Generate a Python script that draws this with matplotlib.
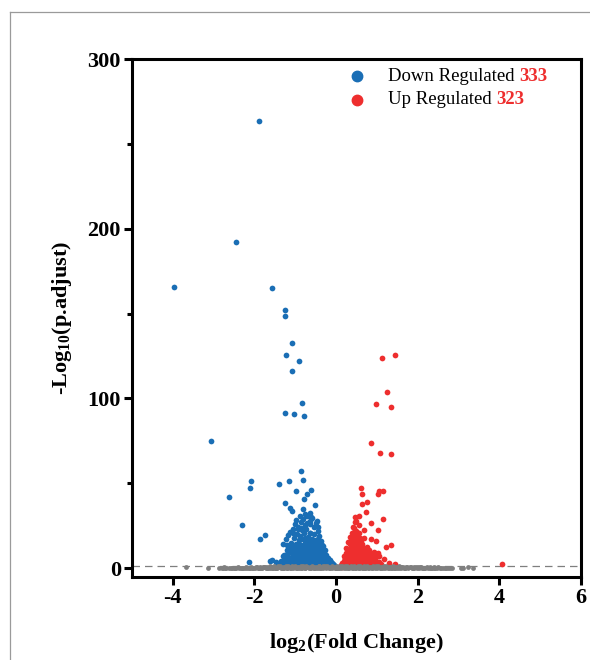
import matplotlib.pyplot as plt
from matplotlib.lines import Line2D
import numpy as np

# significant down-regulated genes (log2FC, -log10 p.adjust)
down_pts = [
    (-1.90, 263.4), (-2.44, 192.0), (-3.97, 165.7), (-1.56, 165.0), (-1.26, 152.3),
    (-1.26, 148.8), (-1.09, 132.8), (-1.23, 125.7), (-0.90, 122.0), (-1.09, 115.9),
    (-0.83, 97.6), (-1.02, 91.0), (-0.78, 89.6), (-1.26, 91.2), (-3.07, 74.7),
    (-2.63, 42.0), (-2.08, 51.2), (-2.10, 47.5), (-2.31, 25.7), (-1.86, 17.1),
    (-1.74, 19.4), (-2.14, 3.5), (-1.40, 49.6), (-1.16, 51.6), (-0.87, 57.5),
    (-0.80, 51.8), (-0.99, 45.3), (-0.78, 41.0), (-0.71, 43.5), (-0.61, 45.9),
    (-1.26, 38.5), (-1.12, 35.3), (-1.08, 33.9), (-0.81, 34.9), (-0.52, 37.3),
    (-0.63, 32.6), (-0.61, 30.0), (-0.65, 28.0), (-0.47, 27.6), (-0.45, 24.1),
    (-0.94, 23.2), (-1.12, 21.2), (-1.63, 4.5), (-1.56, 5.1), (-1.47, 3.5),
    (-1.40, 2.5), (-1.35, 4.5), (-1.45, 2.0), (-1.31, 7.0),
    (-1.28, 2.5), (-1.27, 8.0), (-1.29, 14.0), (-1.22, 4.0), (-1.21, 10.5),
    (-1.23, 17.5), (-1.16, 3.0), (-1.17, 6.5), (-1.15, 12.0), (-1.18, 19.5),
    (-1.10, 2.0), (-1.11, 5.5), (-1.09, 9.0), (-1.10, 15.0), (-1.06, 23.0),
    (-1.04, 3.5), (-1.05, 7.5), (-1.03, 11.5), (-1.04, 18.0), (-1.01, 26.0),
    (-0.98, 2.5), (-0.99, 5.0), (-0.97, 9.5), (-0.98, 14.0), (-0.96, 20.0),
    (-0.97, 28.5), (-0.93, 4.0), (-0.92, 7.0), (-0.94, 12.0), (-0.91, 16.5),
    (-0.93, 24.5), (-0.88, 2.0), (-0.87, 6.0), (-0.89, 10.0), (-0.86, 13.5),
    (-0.88, 19.0), (-0.85, 27.0), (-0.89, 31.0), (-0.83, 3.5), (-0.82, 8.0),
    (-0.84, 12.5), (-0.81, 17.0), (-0.83, 22.5), (-0.80, 29.0), (-0.78, 2.5),
    (-0.77, 5.5), (-0.79, 9.5), (-0.76, 15.0), (-0.78, 20.5), (-0.75, 25.5),
    (-0.77, 32.0), (-0.73, 4.0), (-0.72, 7.5), (-0.74, 11.5), (-0.71, 16.0),
    (-0.73, 23.0), (-0.70, 30.5), (-0.68, 2.0), (-0.67, 6.0), (-0.69, 9.0),
    (-0.66, 13.5), (-0.68, 18.5), (-0.65, 26.0), (-0.63, 3.0), (-0.62, 7.0),
    (-0.64, 11.0), (-0.61, 15.5), (-0.63, 21.0), (-0.60, 29.5), (-0.58, 2.0),
    (-0.57, 5.0), (-0.59, 8.5), (-0.56, 12.5), (-0.58, 17.5), (-0.55, 24.0),
    (-0.53, 3.5), (-0.52, 6.5), (-0.54, 10.5), (-0.51, 14.5), (-0.53, 20.0),
    (-0.50, 26.5), (-0.48, 2.0), (-0.47, 5.0), (-0.49, 8.0), (-0.46, 12.0),
    (-0.48, 16.5), (-0.45, 22.0), (-0.43, 3.0), (-0.42, 6.5), (-0.44, 10.0),
    (-0.41, 14.0), (-0.43, 19.0), (-0.38, 2.0), (-0.37, 5.0), (-0.39, 8.0),
    (-0.36, 11.5), (-0.38, 16.0), (-0.33, 2.5), (-0.32, 5.5), (-0.34, 9.0),
    (-0.31, 13.0), (-0.28, 2.0), (-0.27, 4.5), (-0.29, 7.5), (-0.26, 10.5),
    (-0.23, 2.5), (-0.22, 5.0), (-0.24, 8.0), (-0.18, 2.0), (-0.17, 4.0),
    (-0.19, 6.0), (-0.13, 2.0), (-0.12, 3.5), (-0.08, 1.8), (-0.07, 2.5),
    (-1.25, 6.0), (-1.19, 8.5), (-1.13, 4.5), (-1.13, 10.5), (-1.07, 6.5),
    (-1.07, 13.0), (-1.01, 4.5), (-1.01, 9.0), (-0.95, 6.0), (-0.95, 11.0),
    (-0.90, 8.5), (-0.90, 14.5), (-0.85, 5.0), (-0.85, 10.5), (-0.80, 6.5),
    (-0.80, 12.5), (-0.75, 8.0), (-0.75, 18.0), (-0.70, 5.5), (-0.70, 13.0),
    (-0.66, 10.0), (-0.65, 20.5), (-0.60, 5.5), (-0.60, 11.0), (-0.56, 7.0),
    (-0.55, 15.5), (-0.50, 5.0), (-0.50, 9.5), (-0.45, 7.0), (-0.45, 17.0),
    (-0.40, 4.0), (-0.40, 11.0), (-0.35, 7.0), (-0.35, 13.5), (-0.30, 4.0),
    (-0.30, 10.0), (-0.25, 6.5), (-0.20, 4.0), (-0.15, 5.0), (-0.10, 3.0),
    (-0.05, 2.0), (-1.20, 13.5), (-1.05, 20.5), (-0.86, 23.5), (-0.70, 26.5),
]

# significant up-regulated genes
up_pts = [
    (1.13, 123.7), (1.44, 125.7), (1.24, 104.1), (0.99, 96.7), (1.34, 94.7),
    (0.86, 73.5), (1.08, 67.9), (1.34, 67.3), (4.07, 2.2),
    (0.61, 47.3), (0.63, 43.8), (1.06, 45.3), (1.14, 45.3), (1.02, 43.8),
    (0.77, 39.0), (0.64, 37.9), (0.73, 32.9), (0.55, 31.0), (1.14, 29.2),
    (0.86, 26.9), (0.49, 28.0), (0.69, 22.6), (1.02, 22.6), (0.69, 17.9),
    (0.86, 17.1), (0.99, 15.9), (1.34, 13.9), (1.22, 12.4), (0.92, 9.5),
    (1.02, 9.0), (1.05, 7.0), (0.95, 6.5), (1.18, 5.5), (1.45, 2.5), (1.30, 3.0),
    (0.13, 1.8), (0.14, 3.0), (0.18, 2.0), (0.19, 4.5), (0.20, 7.0),
    (0.23, 2.5), (0.22, 5.5), (0.24, 9.0), (0.25, 12.0), (0.28, 2.0),
    (0.27, 4.5), (0.29, 8.0), (0.28, 11.5), (0.30, 15.5), (0.33, 3.0),
    (0.32, 6.5), (0.34, 10.0), (0.33, 14.0), (0.35, 18.5), (0.38, 2.0),
    (0.37, 5.0), (0.39, 8.5), (0.38, 12.5), (0.40, 16.5), (0.39, 21.0),
    (0.41, 24.5), (0.43, 3.5), (0.42, 7.0), (0.44, 11.0), (0.43, 15.0),
    (0.45, 19.5), (0.44, 23.5), (0.46, 27.0), (0.47, 2.0), (0.48, 5.5),
    (0.47, 9.5), (0.49, 13.5), (0.48, 18.0), (0.50, 22.0), (0.47, 30.0),
    (0.52, 3.0), (0.53, 7.0), (0.52, 11.5), (0.54, 16.0), (0.53, 20.5),
    (0.55, 25.5), (0.57, 2.0), (0.58, 5.0), (0.57, 9.0), (0.59, 13.0),
    (0.58, 18.0), (0.62, 3.0), (0.63, 6.5), (0.62, 10.5), (0.64, 14.5),
    (0.67, 2.0), (0.68, 5.0), (0.67, 8.0), (0.69, 12.0), (0.72, 3.5),
    (0.73, 6.5), (0.74, 9.5), (0.78, 2.0), (0.79, 4.5), (0.80, 7.5),
    (0.84, 2.5), (0.85, 5.0), (0.83, 8.5), (0.90, 2.0), (0.91, 4.0),
    (0.15, 1.0), (0.16, 2.5), (0.21, 3.5), (0.21, 6.0), (0.26, 3.5),
    (0.26, 7.0), (0.31, 4.5), (0.31, 9.0), (0.35, 7.5), (0.36, 12.0),
    (0.36, 16.0), (0.41, 4.0), (0.40, 10.5), (0.41, 13.5), (0.42, 18.5),
    (0.45, 6.0), (0.45, 13.0), (0.46, 16.5), (0.46, 21.5), (0.50, 4.0),
    (0.50, 8.5), (0.51, 15.0), (0.51, 18.5), (0.55, 4.5), (0.55, 11.0),
    (0.56, 14.5), (0.56, 21.0), (0.60, 4.0), (0.60, 8.0), (0.60, 12.0),
    (0.61, 16.5), (0.65, 3.5), (0.65, 7.5), (0.66, 10.5), (0.70, 2.5),
    (0.70, 6.0), (0.71, 9.0), (0.76, 3.0), (0.76, 6.0), (0.81, 3.5),
    (0.81, 6.0), (0.87, 3.5), (0.88, 6.5), (0.95, 3.0), (0.98, 4.5),
    (1.05, 3.5), (1.10, 2.5), (0.75, 12.5), (0.80, 11.0),
]

# not significant genes
ns_pts = [
    (-3.67, 0.6), (-3.14, 0.3), (-2.86, 0.4), (-2.80, 0.2), (-2.75, 0.5),
    (-2.69, 0.3), (-2.62, 0.1), (-2.55, 0.4), (-2.47, 0.2), (-2.41, 0.6),
    (-2.33, 0.3), (-2.27, 0.1), (-2.20, 0.5), (-2.14, 0.2), (-2.08, 0.7),
    (-2.03, 0.3), (-1.97, 0.5), (-1.92, 0.1), (-1.86, 0.8), (-1.81, 0.3),
    (-1.77, 0.6), (-1.72, 0.2), (-1.68, 0.9), (-1.63, 0.4), (-1.59, 1.0),
    (-1.55, 0.2), (-1.51, 0.7), (-1.47, 0.3), (-1.43, 1.1), (-1.39, 0.5),
    (-1.35, 0.1), (-1.31, 0.8), (-1.27, 0.4), (-1.23, 1.2), (-1.19, 0.2),
    (-1.15, 0.7), (-1.11, 0.3), (-1.07, 1.1), (-1.03, 0.5), (-0.99, 0.9),
    (-0.95, 0.2), (-0.91, 0.6), (-0.87, 1.2), (-0.83, 0.3), (-0.79, 0.8),
    (-0.75, 0.1), (-0.71, 1.0), (-0.67, 0.4), (-0.63, 0.7), (-0.59, 1.2),
    (-0.55, 0.2), (-0.51, 0.9), (-0.47, 0.5), (-0.43, 1.1), (-0.39, 0.3),
    (-0.35, 0.8), (-0.31, 0.2), (-0.27, 1.2), (-0.23, 0.5), (-0.19, 0.9),
    (-0.15, 0.3), (-0.11, 1.1), (-0.07, 0.6), (-0.03, 0.2), (0.01, 0.9),
    (0.05, 0.4), (0.09, 1.2), (0.13, 0.2), (0.17, 0.7), (0.21, 1.1),
    (0.25, 0.3), (0.29, 0.9), (0.33, 0.5), (0.37, 1.2), (0.41, 0.2),
    (0.45, 0.8), (0.49, 0.4), (0.53, 1.1), (0.57, 0.3), (0.61, 0.9),
    (0.65, 0.1), (0.69, 1.2), (0.73, 0.5), (0.77, 0.8), (0.81, 0.2),
    (0.85, 1.0), (0.89, 0.4), (0.93, 0.7), (0.97, 1.2), (1.01, 0.3),
    (1.05, 0.9), (1.09, 0.1), (1.13, 0.6), (1.17, 1.1), (1.21, 0.3),
    (1.25, 0.8), (1.29, 0.4), (1.33, 1.0), (1.37, 0.2), (1.41, 0.7),
    (1.45, 0.4), (1.50, 0.9), (1.55, 0.2), (1.60, 0.6), (1.66, 0.3),
    (1.71, 0.8), (1.77, 0.1), (1.83, 0.5), (1.89, 0.3), (1.95, 0.7),
    (2.02, 0.2), (2.08, 0.5), (2.15, 0.3), (2.22, 0.6), (2.29, 0.1),
    (2.36, 0.4), (2.43, 0.2), (2.50, 0.5), (2.58, 0.3), (2.66, 0.4),
    (2.73, 0.2), (3.06, 0.4), (3.22, 0.5), (3.36, 0.4),
    (-1.70, 0.0), (-1.50, 0.4), (-1.30, 0.0), (-1.10, 0.6), (-0.90, 0.0),
    (-0.70, 0.5), (-0.50, 0.0), (-0.30, 0.6), (-0.10, 0.0), (0.10, 0.5),
    (0.30, 0.0), (0.50, 0.6), (0.70, 0.0), (0.90, 0.5), (1.10, 0.0),
    (1.30, 0.6), (1.50, 0.0), (1.70, 0.4), (1.90, 0.0), (2.10, 0.1),
    (2.30, 0.5), (-1.90, 0.0), (-2.10, 0.2), (-1.60, 0.6), (-1.20, 0.9),
    (-0.80, 0.6), (-0.40, 0.7), (0.00, 0.4), (0.40, 0.6), (0.80, 0.9),
    (1.20, 0.5), (1.60, 0.9), (2.00, 0.6), (2.40, 0.7),
    (-2.78, 0.0), (-2.72, 0.1), (-2.58, 0.3), (-2.51, 0.0), (-2.44, 0.1),
    (-2.37, 0.0), (-2.30, 0.4), (-2.24, 0.0), (-2.17, 0.3), (-2.05, 0.0),
    (-1.99, 0.2), (-1.94, 0.6), (-1.88, 0.2), (-1.83, 0.0), (-1.79, 1.0),
    (-1.74, 0.5), (-1.66, 0.2), (-1.61, 1.2), (-1.57, 0.0), (-1.53, 1.1),
    (-1.45, 0.0), (-1.41, 0.8), (-1.37, 1.2), (-1.33, 0.3), (-1.25, 0.7),
    (-1.21, 0.0), (-1.17, 1.2), (-1.13, 0.0), (-1.05, 0.2), (-1.01, 1.2),
    (-0.97, 0.0), (-0.93, 1.0), (-0.85, 0.0), (-0.81, 1.1), (-0.77, 0.4),
    (-0.73, 1.2), (-0.65, 0.0), (-0.61, 0.4), (-0.57, 1.0), (-0.53, 0.0),
    (-0.45, 0.2), (-0.41, 1.2), (-0.37, 0.0), (-0.33, 1.1), (-0.25, 0.0),
    (-0.21, 1.2), (-0.17, 0.1), (-0.13, 0.8), (-0.05, 1.0), (-0.01, 0.0),
    (0.03, 1.1), (0.07, 0.0), (0.11, 0.8), (0.15, 1.2), (0.19, 0.0),
    (0.23, 0.6), (0.27, 1.2), (0.31, 0.2), (0.35, 1.0), (0.39, 0.0),
    (0.43, 1.2), (0.47, 0.1), (0.51, 0.9), (0.55, 0.0), (0.59, 1.2),
    (0.63, 0.4), (0.67, 0.9), (0.71, 0.2), (0.75, 1.2), (0.79, 0.0),
    (0.83, 0.7), (0.87, 0.1), (0.91, 1.2), (0.95, 0.0), (0.99, 0.6),
    (1.03, 1.2), (1.07, 0.4), (1.11, 1.0), (1.15, 0.0), (1.19, 0.8),
    (1.23, 1.2), (1.27, 0.1), (1.31, 0.9), (1.35, 0.4), (1.39, 1.1),
    (1.43, 0.0), (1.48, 0.6), (1.53, 1.1), (1.58, 0.3), (1.63, 1.0),
    (1.68, 0.0), (1.74, 0.6), (1.80, 0.9), (1.86, 0.0), (1.92, 0.5),
    (1.98, 0.1), (2.05, 0.8), (2.12, 0.0), (2.19, 0.4), (2.26, 0.2),
    (2.33, 0.0), (2.40, 0.3), (2.47, 0.0), (2.54, 0.2), (2.62, 0.0),
    (2.70, 0.3), (2.78, 0.1), (2.84, 0.3), (3.10, 0.2),
]

down_label = "Down Regulated "
up_label = "Up Regulated "
down_count = "333"
up_count = "323"

blue = "#1a6eb5"
red = "#ee2e2e"
gray = "#7f7f7f"

plt.rcParams['font.family'] = ['Liberation Serif', 'DejaVu Serif']
plt.rcParams['mathtext.fontset'] = 'custom'
plt.rcParams['mathtext.rm'] = 'Liberation Serif'
plt.rcParams['mathtext.bf'] = 'Liberation Serif:bold'

fig = plt.figure(figsize=(5.9, 6.6), dpi=100)
ax = fig.add_axes([0.2237, 0.1262, 0.7610, 0.7844])

dx, dy = np.array(down_pts).T
ux, uy = np.array(up_pts).T
nx, ny = np.array(ns_pts).T

ax.scatter(dx, dy, s=17, color=blue, linewidths=0, zorder=2)
ax.scatter(ux, uy, s=17, color=red, linewidths=0, zorder=2)
ax.scatter(nx, ny, s=12, color=gray, linewidths=0, zorder=3)
ax.axhline(-np.log10(0.05), color=gray, lw=0.9, dashes=(6, 4), zorder=1)

ax.set_xlim(-5, 6)
ax.set_ylim(-5, 300)
ax.set_xticks([-4, -2, 0, 2, 4, 6])
ax.set_xticklabels(["-4", "-2", "0", "2", "4", "6"])
ax.set_yticks([0, 100, 200, 300])
ax.set_yticks([50, 150, 250], minor=True)

for s in ax.spines.values():
    s.set_linewidth(2.2)
ax.tick_params(axis='both', which='major', direction='out', length=6, width=2.2,
               labelsize=16, pad=2)
ax.tick_params(axis='y', which='minor', direction='out', length=3.5, width=2.2)
for lab in ax.get_xticklabels() + ax.get_yticklabels():
    lab.set_fontweight('bold')

ax.set_xlabel(r"log$_\mathbf{2}$(Fold Change)", fontsize=16, fontweight='bold',
              labelpad=17)
ax.set_ylabel(r"-Log$_\mathbf{10}$(p.adjust)", fontsize=16, fontweight='bold',
              labelpad=10)

# legend with coloured counts
for i, (lab, cnt, col) in enumerate([(down_label, down_count, blue),
                                     (up_label, up_count, red)]):
    yy = 0.967 - i * 0.046
    ax.plot([0.501], [yy], marker='o', ms=7.5, color=col, transform=ax.transAxes,
            clip_on=False, zorder=5)
    t = ax.text(0.570, yy, lab, transform=ax.transAxes, fontsize=13.5,
                va='center', ha='left')
    ax.annotate(cnt, xy=(1, 0.5), xycoords=t, va='center', ha='left',
                fontsize=13.5, fontweight='bold', color=red)

# light frame around the figure
fig.add_artist(Line2D([10 / 590, 10 / 590], [0, 1 - 12 / 660], color='#9a9a9a', lw=0.9))
fig.add_artist(Line2D([10 / 590, 1], [1 - 12 / 660, 1 - 12 / 660], color='#9a9a9a', lw=0.9))

fig.savefig("out.png", dpi=100)
